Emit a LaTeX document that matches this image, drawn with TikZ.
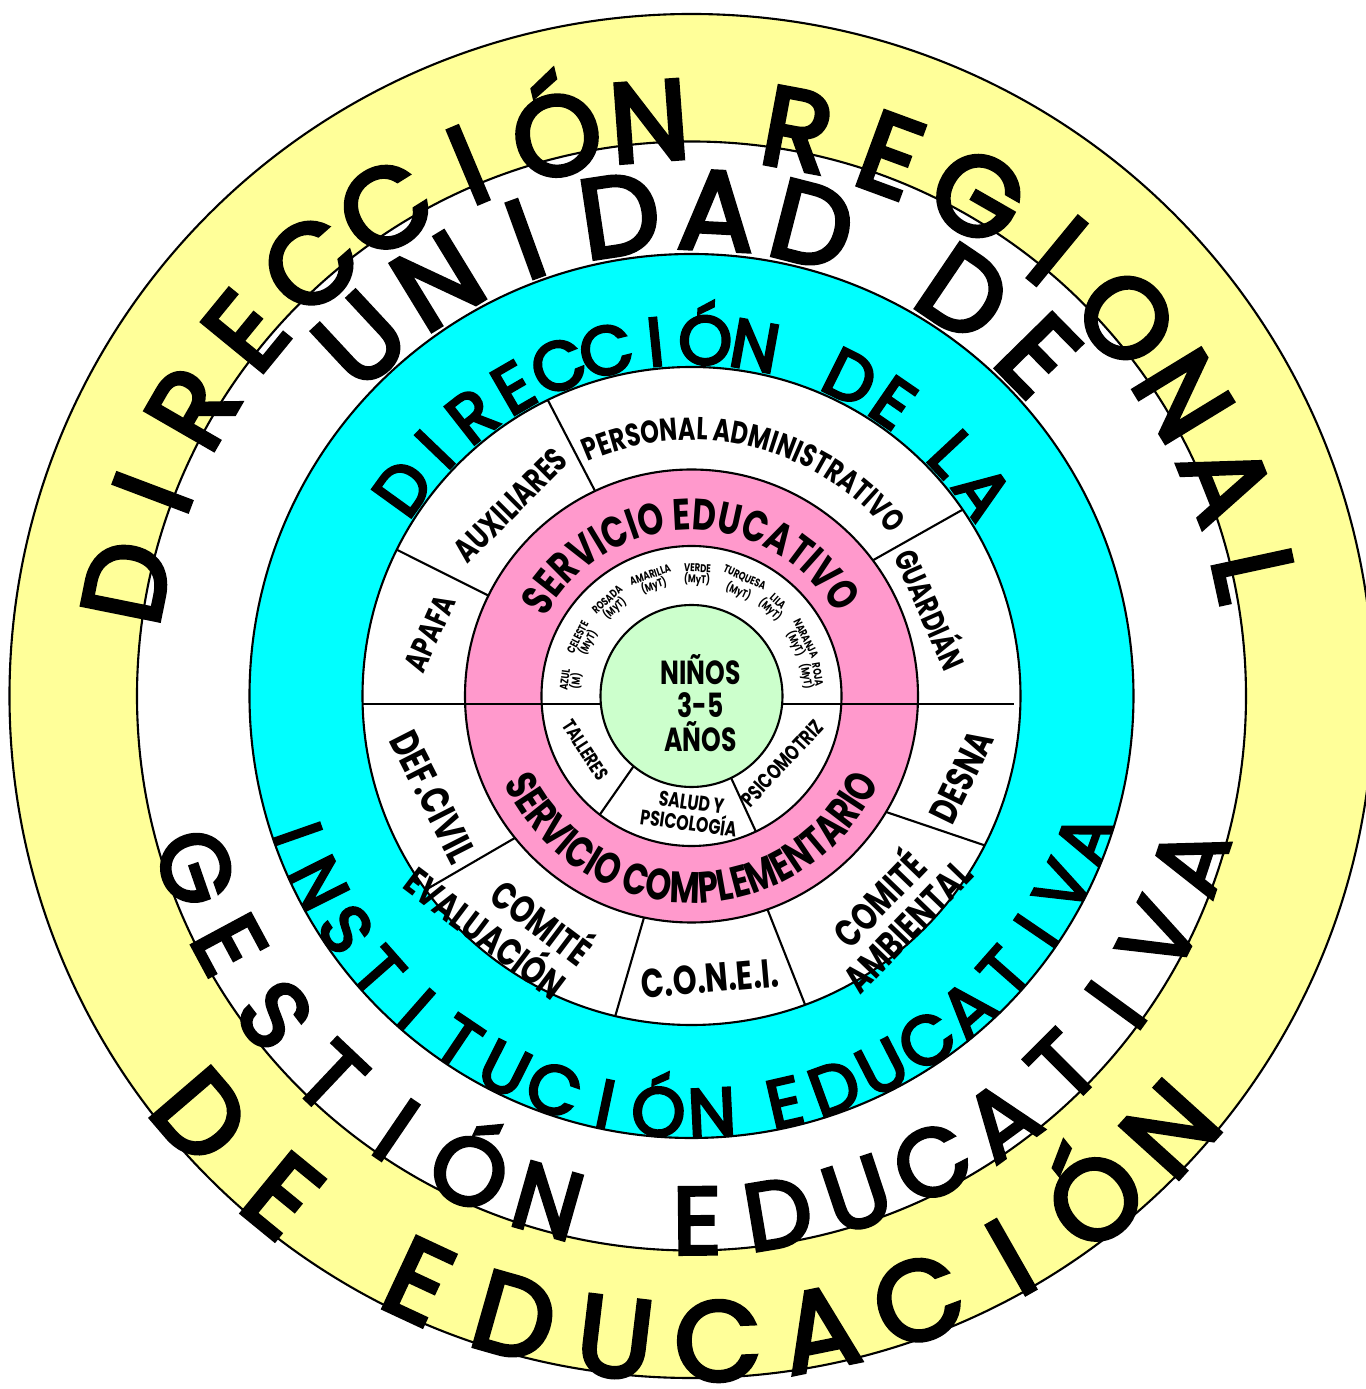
\documentclass[tikz,border=0pt]{standalone}
\usepackage{fontspec}
\setmainfont{Poppins}
\newfontfamily\narrowfont{Poppins}[FakeStretch=0.75]
\newfontfamily\heavyfont{Poppins}[FakeBold=4]
\usetikzlibrary{decorations.text}
\definecolor{ringyellow}{RGB}{255,255,153}
\definecolor{ringcyan}{RGB}{0,255,255}
\definecolor{ringpink}{RGB}{255,153,204}
\definecolor{ringgreen}{RGB}{204,255,204}
\tikzset{
  ring/.style={draw=black,line width=0.6pt},
  bigletter/.style={anchor=base,inner sep=0pt,font=\heavyfont\fontsize{#1}{#1}\selectfont},
  sectorlabel/.style={inner sep=0pt,align=center,font=\narrowfont\bfseries\fontsize{#1}{#1}\selectfont}
}
\newcommand{\pinkfont}{\narrowfont\bfseries\fontsize{12.5}{12.5}\selectfont}
\newcommand{\adminfont}{\narrowfont\bfseries\fontsize{9}{9}\selectfont}
% spaced capitals round an arc: [style]{radius}{first angle}{step}{letters}
\newcommand{\toparc}[5][]{\foreach \ltr [count=\pos from 0] in {#5}
  \node[#1,rotate={#3-#4*\pos-90}] at ({#3-#4*\pos}:#2) {\ltr};}
\newcommand{\botarc}[5][]{\foreach \ltr [count=\pos from 0] in {#5}
  \node[#1,rotate={#3+#4*\pos+90}] at ({#3+#4*\pos}:#2) {\ltr};}

\begin{document}
\begin{tikzpicture}
    \pgfmathsetmacro{\rg}{0.91};
    \pgfmathsetmacro{\rw}{1.50};
    \pgfmathsetmacro{\rp}{2.265};
    \pgfmathsetmacro{\rs}{3.29};
    \pgfmathsetmacro{\rc}{4.42};
    \pgfmathsetmacro{\rb}{5.545};
    \pgfmathsetmacro{\ry}{6.82};
    \useasboundingbox (-6.915,-6.93) rectangle (6.735,6.96);
    \fill[white] (-6.915,-6.93) rectangle (6.735,6.96);

    % rings
    \path[ring,fill=ringyellow] (0,0) circle (\ry);
    \path[ring,fill=white] (0,0) circle (\rb);
    \path[ring,fill=ringcyan] (0,0) circle (\rc);
    \path[ring,fill=white] (0,0) circle (\rs);
    \path[ring,fill=ringpink] (0,0) circle (\rp);
    \path[ring,fill=white] (0,0) circle (\rw);

    % sector walls
    \foreach \a/\b in {153.7/153.6,115.2/115.9,36.8/34.5,218.8/216.1,257.9/256.6,289.6/290.2,329.2/333.0}
      \draw[ring] (\a:\rp) -- (\b:\rs);
    \foreach \a/\b in {230.5/232.3,295.8/295.4}
      \draw[ring] (\a:\rg) -- (\b:\rw);
    \draw[ring] (-\rs,-0.08) -- (3.22,-0.08);
    \path[ring,fill=ringgreen] (0,0) circle (\rg);

    % outer titles
    \toparc[bigletter=32]{5.37}{168.6}{9.3}{D,I,R,E,C,C,I,Ó,N}
    \toparc[bigletter=32]{5.37}{79.4}{9.6}{R,E,G,I,O,N,A,L}
    \botarc[bigletter=32]{6.85}{220.6}{10.1}{D,E}
    \botarc[bigletter=32]{6.85}{245.0}{9.11}{E,D,U,C,A,C,I,Ó,N}
    \toparc[bigletter=32]{4.47}{132.9}{11.46}{U,N,I,D,A,D}
    \toparc[bigletter=32]{4.47}{55.9}{11.4}{D,E}
    \botarc[bigletter=27]{5.58}{199.1}{9.17}{G,E,S,T,I,Ó,N}
    \botarc[bigletter=27]{5.58}{270.6}{8.89}{E,D,U,C,A,T,I,V,A}
    \toparc[bigletter=19.5]{3.32}{144.2}{8.06}{D,I,R,E,C,C,I,Ó,N}
    \toparc[bigletter=19.5]{3.32}{63.5}{8}{D,E}
    \toparc[bigletter=19.5]{3.32}{43}{8}{L,A}
    \botarc[bigletter=19.5]{4.41}{199.3}{7.35}{I,N,S,T,I,T,U,C,I,Ó,N}
    \botarc[bigletter=19.5]{4.41}{282.9}{7.14}{E,D,U,C,A,T,I,V,A}

    % pink ring
    \path[decorate,decoration={text along path,text align=center,
      text={|\pinkfont|SERVICIO EDUCATIVO}}]
      (175:1.66) arc[start angle=175,end angle=6,radius=1.66];
    \path[decorate,decoration={text along path,text align=center,
      text={|\pinkfont|SERVICIO COMPLEMENTARIO}}]
      (190:2.07) arc[start angle=190,end angle=350.3,radius=2.07];

    % sectors
    \path[decorate,decoration={text along path,text align=center,
      text={|\adminfont|PERSONAL ADMINISTRATIVO}}]
      (121.5:2.56) arc[start angle=121.5,end angle=31.5,radius=2.56];
    \node[sectorlabel=9,rotate=66] (apafa) at (166.5:2.69) {APAFA};
    \node[sectorlabel=9.5,rotate=45] (aux) at (133.5:2.63) {AUXILIARES};
    \node[sectorlabel=9,rotate=-66] (guard) at (20:2.57) {GUARDIÁN};
    \node[sectorlabel=11.5,rotate=-63] (civil) at (201.3:2.775) {DEF.CIVIL};
    \node[sectorlabel=11,rotate=-37,align=right] (eval) at (228.7:2.89) {COMITÉ\\[1pt]EVALUACIÓN};
    \node[sectorlabel=11.5,rotate=5] (conei) at (273.8:2.83) {C.O.N.E.I.};
    \node[sectorlabel=11,rotate=46] (amb) at (312.9:2.92) {COMITÉ\\[0pt]AMBIENTAL};
    \node[sectorlabel=11,rotate=64] (desna) at (343.3:2.82) {DESNA};

    % inner ring
    \foreach \ang/\aula/\turno in {172.6/AZUL/(M),152.7/CELESTE/(MyT),131.2/ROSADA/(MyT),
      108.8/AMARILLA/(MyT),87.3/VERDE/(MyT),65.8/TURQUESA/(MyT),47.5/LILA/(MyT),
      26.7/NARANJA/(MyT),9.7/ROJA/(MyT)}
      \node[sectorlabel=3.2,rotate=\ang-90] at (\ang:1.21) {\aula\\\turno};
    \node[sectorlabel=5.5,rotate=-57] (talleres) at (206.9:1.19) {TALLERES};
    \node[sectorlabel=6,rotate=-8] (salud) at (269.3:1.17) {SALUD Y\\PSICOLOGÍA};
    \node[sectorlabel=6,rotate=47] (psico) at (323.5:1.13) {PSICOMOTRIZ};

    % core
    \node[sectorlabel=9.5] (ninos) at (0.09,-0.07) {NIÑOS\\3-5\\AÑOS};
\end{tikzpicture}
\end{document}
